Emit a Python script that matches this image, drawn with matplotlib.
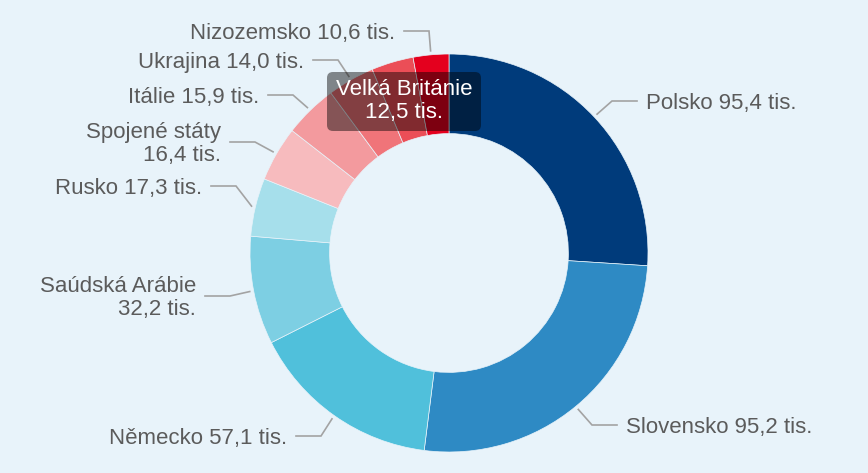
import numpy as np
import matplotlib.pyplot as plt
from matplotlib.patches import FancyBboxPatch

plt.rcParams['font.family'] = ['Liberation Sans', 'DejaVu Sans']

countries = ["Polsko", "Slovensko", "Německo", "Saúdská Arábie", "Rusko",
             "Spojené státy", "Itálie", "Ukrajina", "Velká Británie", "Nizozemsko"]
values = [95.4, 95.2, 57.1, 32.2, 17.3, 16.4, 15.9, 14.0, 12.5, 10.6]
colors = ["#003b7b", "#2e8ac4", "#50c0db", "#7dcfe3", "#a6dfeb",
          "#f7bbbe", "#f39a9e", "#f07479", "#eb4e57", "#e4001e"]

# label layout in pixels: text edge x, connector y, side (+1 right, -1 left)
label_layout = [(646, 101, 1), (626, 425, 1), (287, 436, -1), (196, 296, -1),
                (202, 186, -1), (221, 142, -1), (259, 95, -1), (304, 60, -1),
                None, (395, 31, -1)]
wrapped = ["Saúdská Arábie", "Spojené státy"]

W, H = 868, 473
cx, cy, R = 449, 253, 199
bg = "#e8f3fa"


def px(x, y):
    return (x - cx) / R, (cy - y) / R


fig = plt.figure(figsize=(W / 100, H / 100), dpi=100, facecolor=bg)
ax = fig.add_axes([0, 0, 1, 1])
ax.set_facecolor(bg)

ax.pie(values, colors=colors, startangle=90, counterclock=False, radius=1,
       wedgeprops=dict(width=0.4, edgecolor=bg, linewidth=0.5))

# pie resets limits and aspect, so set them afterwards
ax.set_aspect('auto')
ax.set_xlim(-cx / R, (W - cx) / R)
ax.set_ylim(-(H - cy) / R, cy / R)
ax.axis('off')

total = sum(values)
start = 90.0
for name, val, lay in zip(countries, values, label_layout):
    span = val / total * 360
    mid = np.radians(start - span / 2)
    start -= span
    if lay is None:
        continue
    tx, ly, side = lay
    sx, sy = 1.02 * np.cos(mid), 1.02 * np.sin(mid)
    ex, ey = px(tx - side * 34, ly)
    fx, fy = px(tx - side * 9, ly)
    ax.plot([sx, ex, fx], [sy, ey, fy], color="#a3a3a3", lw=1.2,
            solid_joinstyle='miter')
    val_txt = f"{val:.1f}".replace(".", ",") + " tis."
    label = f"{name}\n{val_txt}" if name in wrapped else f"{name} {val_txt}"
    lx, lyd = px(tx, ly + 2)
    ax.text(lx, lyd, label, ha='left' if side > 0 else 'right', va='center',
            fontsize=16, color="#5b5b5b", linespacing=1.17,
            multialignment='right' if side < 0 else 'left')

# tooltip for Velká Británie
x0, y0 = px(327, 131)
x1, y1 = px(481, 72)
box = FancyBboxPatch((x0, y0), x1 - x0, y1 - y0,
                     boxstyle="round,pad=0,rounding_size=0.03",
                     facecolor=(0, 0, 0, 0.45), edgecolor='none', zorder=5)
ax.add_patch(box)
vb = countries.index("Velká Británie")
tt_x, tt_y = px(404, 101)
ax.text(tt_x, tt_y, f"{countries[vb]}\n" + f"{values[vb]:.1f}".replace(".", ",") + " tis.",
        ha='center', va='center', fontsize=16, color='white', linespacing=1.1,
        zorder=6)

fig.savefig("out.png", dpi=100, facecolor=bg)
